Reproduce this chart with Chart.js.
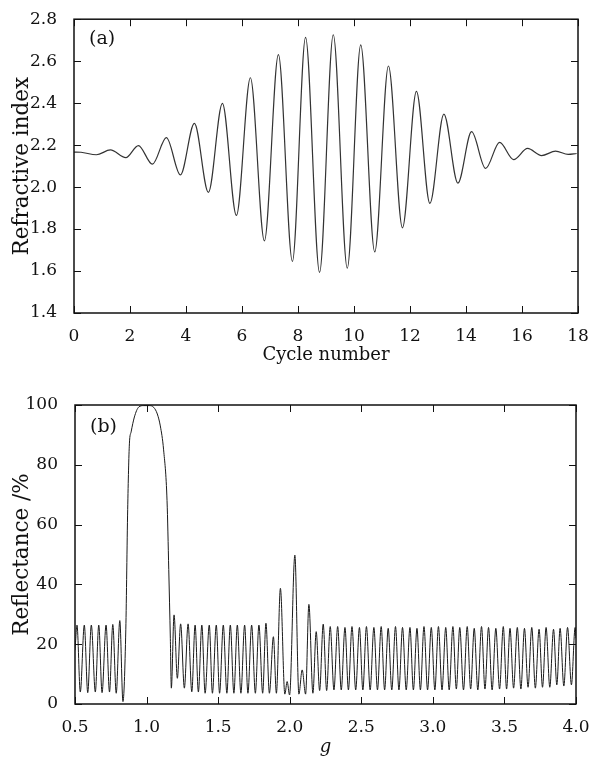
<!DOCTYPE html>
<html>
<head>
<meta charset="utf-8">
<script src="https://cdn.jsdelivr.net/npm/chart.js@4.4.1/dist/chart.umd.min.js"></script>
<style>
  html, body { margin: 0; padding: 0; background: #fff; }
  #panelA, #panelB { position: absolute; left: 0; width: 598px; }
  #panelA { top: 0; height: 380px; }
  #panelB { top: 380px; height: 381px; }
</style>
</head>
<body>
<div id="panelA"><canvas id="graficoA" width="598" height="380"></canvas></div>
<div id="panelB"><canvas id="graficoB" width="598" height="381"></canvas></div>
<script>
// (a) refractive index vs cycle number, extrema
const ciclos = [0, 0.25, 0.8, 1.3, 1.85, 2.3, 2.8, 3.3, 3.8, 4.3, 4.8, 5.3, 5.8, 6.3, 6.8, 7.3, 7.8,
  8.27, 8.77, 9.26, 9.76, 10.24, 10.74, 11.23, 11.73, 12.23, 12.71, 13.21, 13.71, 14.2, 14.7,
  15.2, 15.7, 16.2, 16.7, 17.2, 17.65, 17.95];
const indice = [2.167, 2.166, 2.154, 2.177, 2.140, 2.198, 2.109, 2.236, 2.058, 2.304, 1.975, 2.399,
  1.865, 2.521, 1.744, 2.631, 1.646, 2.713, 1.594, 2.726, 1.614, 2.678, 1.691, 2.577, 1.806,
  2.456, 1.922, 2.348, 2.019, 2.264, 2.089, 2.213, 2.131, 2.184, 2.150, 2.171, 2.156, 2.160];

// (b) reflectance vs g
const gValores = [0.500, 0.514, 0.537, 0.565, 0.589, 0.614, 0.642, 0.666, 0.689, 0.717, 0.741, 0.764,
  0.788, 0.813, 0.835, 0.855, 0.868, 0.880, 0.892, 0.915, 0.945, 0.980, 1.020, 1.050, 1.075,
  1.096, 1.119, 1.143, 1.155, 1.166, 1.173, 1.192, 1.215, 1.238, 1.264, 1.290, 1.316, 1.339,
  1.362, 1.386, 1.409, 1.438, 1.460, 1.487, 1.510, 1.536, 1.561, 1.585, 1.610, 1.634, 1.659,
  1.685, 1.708, 1.734, 1.760, 1.785, 1.811, 1.834, 1.858, 1.886, 1.907, 1.935, 1.966, 1.982,
  1.999, 2.036, 2.064, 2.087, 2.111, 2.134, 2.162, 2.185, 2.209, 2.234, 2.258, 2.283, 2.309,
  2.335, 2.360, 2.386, 2.410, 2.435, 2.461, 2.487, 2.511, 2.536, 2.562, 2.588, 2.613, 2.639,
  2.663, 2.688, 2.713, 2.739, 2.763, 2.788, 2.814, 2.840, 2.864, 2.889, 2.913, 2.938, 2.963,
  2.989, 3.014, 3.039, 3.064, 3.090, 3.114, 3.140, 3.164, 3.188, 3.214, 3.240, 3.264, 3.289,
  3.314, 3.340, 3.364, 3.389, 3.414, 3.440, 3.466, 3.492, 3.515, 3.539, 3.564, 3.590, 3.615,
  3.640, 3.665, 3.691, 3.716, 3.742, 3.766, 3.791, 3.817, 3.843, 3.866, 3.889, 3.915, 3.941,
  3.968, 3.994, 4.000];
const reflectancia = [18, 26.4, 4.0, 26.4, 3.8, 26.4, 4.0, 26.4, 3.8, 26.4, 4.0, 26.6,
  3.6, 27.9, 0.8, 25, 65, 87, 91, 96, 99.3, 99.8, 99.8, 99.2, 97,
  93, 85, 68, 45, 22, 5.3, 29.8, 8.6, 26.8, 5.3, 26.8, 4.1, 26.4,
  4.0, 26.4, 3.6, 26.4, 3.6, 26.4, 3.6, 26.4, 3.6, 26.4, 3.6, 26.4, 3.6,
  26.4, 3.6, 26.4, 3.6, 26.4, 3.6, 27.0, 3.6, 22.5, 3.6, 38.7, 3.3, 7.5,
  3.0, 49.8, 3.3, 11.4, 3.3, 33.3, 3.6, 24.2, 4.5, 26.7, 4.5, 25.9, 4.7,
  25.9, 4.7, 25.6, 4.7, 25.9, 4.7, 25.6, 4.7, 25.9, 4.7, 25.6, 4.7, 25.9,
  4.7, 25.3, 4.7, 25.9, 4.7, 25.6, 4.7, 25.6, 4.7, 25.3, 4.7, 25.9, 4.7,
  25.6, 4.7, 25.9, 4.7, 25.6, 4.7, 25.9, 5.0, 25.6, 4.7, 25.9, 5.0, 25.3,
  4.7, 25.9, 5.0, 25.6, 4.7, 25.3, 5.0, 25.9, 5.0, 25.3, 5.3, 25.6, 5.0,
  25.3, 5.6, 25.6, 5.3, 25.0, 5.6, 25.6, 5.6, 25.0, 6.4, 25.3, 6.0, 25.6,
  6.4, 25.6, 22];

// tick labels
const ticksCiclo = [0, 2, 4, 6, 8, 10, 12, 14, 16, 18];
const ticksIndice = ['1.4', '1.6', '1.8', '2.0', '2.2', '2.4', '2.6', '2.8'];
const ticksG = ['0.5', '1.0', '1.5', '2.0', '2.5', '3.0', '3.5', '4.0'];
const ticksR = [0, 20, 40, 60, 80, 100];

const SERIF = '"DejaVu Serif", "Liberation Serif", serif';
const NEGRO = '#111';

// frame, inward ticks on four sides, panel letter
const marco = {
  id: 'marco',
  afterDatasetsDraw(chart, args, opts) {
    const { ctx, chartArea: a, scales: { x, y } } = chart;
    ctx.save();
    ctx.strokeStyle = NEGRO;
    ctx.lineWidth = 1;
    ctx.beginPath();
    x.ticks.forEach(t => {
      const px = Math.round(x.getPixelForValue(t.value)) + 0.5;
      ctx.moveTo(px, a.bottom); ctx.lineTo(px, a.bottom - 7);
      ctx.moveTo(px, a.top); ctx.lineTo(px, a.top + 7);
    });
    y.ticks.forEach(t => {
      const py = Math.round(y.getPixelForValue(t.value)) + 0.5;
      ctx.moveTo(a.left, py); ctx.lineTo(a.left + 7, py);
      ctx.moveTo(a.right, py); ctx.lineTo(a.right - 7, py);
    });
    ctx.stroke();
    ctx.lineWidth = 1.5;
    ctx.strokeRect(a.left, a.top, a.right - a.left, a.bottom - a.top);
    ctx.fillStyle = NEGRO;
    ctx.font = '19px ' + SERIF;
    ctx.textBaseline = 'middle';
    ctx.fillText(opts.etiqueta, a.left + 15, a.top + opts.dy);
    ctx.restore();
  }
};

function ejeX(min, max, etiquetas, titulo, italica, alto, padTitulo) {
  return {
    type: 'linear', min, max,
    afterBuildTicks: s => { s.ticks = etiquetas.map(v => ({ value: Number(v) })); },
    ticks: {
      autoSkip: false, maxRotation: 0, padding: 5, color: NEGRO,
      font: { family: SERIF, size: 17 },
      callback: (v, i) => String(etiquetas[i])
    },
    grid: { display: false },
    border: { display: false },
    title: {
      display: true, text: titulo, color: NEGRO,
      font: { family: SERIF, size: 18, style: italica ? 'italic' : 'normal' },
      padding: { top: 0, bottom: padTitulo }
    },
    afterFit: s => { s.height = alto; }
  };
}

function ejeY(min, max, etiquetas, titulo, ancho) {
  return {
    type: 'linear', min, max,
    afterBuildTicks: s => { s.ticks = etiquetas.map(v => ({ value: Number(v) })); },
    ticks: {
      autoSkip: false, padding: 9, color: NEGRO,
      font: { family: SERIF, size: 17 },
      callback: (v, i) => String(etiquetas[i])
    },
    grid: { display: false },
    border: { display: false },
    title: {
      display: true, text: titulo, color: NEGRO,
      font: { family: SERIF, size: 21.5 },
      padding: { top: 10, bottom: 0 }
    },
    afterFit: s => { s.width = ancho; }
  };
}

new Chart(document.getElementById('graficoA').getContext('2d'), {
  type: 'line',
  data: {
    datasets: [{
      data: ciclos.map((c, i) => ({ x: c, y: indice[i] })),
      borderColor: '#333',
      borderWidth: 1.2,
      pointRadius: 0,
      fill: false,
      cubicInterpolationMode: 'monotone'
    }]
  },
  options: {
    responsive: false,
    animation: false,
    layout: { padding: { top: 12, right: 20, left: 0, bottom: 0 } },
    plugins: { legend: { display: false }, tooltip: { enabled: false }, marco: { etiqueta: '(a)', dy: 20 } },
    scales: {
      x: ejeX(0, 18, ticksCiclo, 'Cycle number', false, 67, 14),
      y: ejeY(1.4, 2.8, ticksIndice, 'Refractive index', 74)
    }
  },
  plugins: [marco]
});

new Chart(document.getElementById('graficoB').getContext('2d'), {
  type: 'line',
  data: {
    datasets: [{
      data: gValores.map((g, i) => ({ x: g, y: reflectancia[i] })),
      borderColor: '#1a1a1a',
      borderWidth: 1,
      pointRadius: 0,
      fill: false,
      cubicInterpolationMode: 'monotone'
    }]
  },
  options: {
    responsive: false,
    animation: false,
    layout: { padding: { top: 25, right: 22, left: 0, bottom: 0 } },
    plugins: { legend: { display: false }, tooltip: { enabled: false }, marco: { etiqueta: '(b)', dy: 22 } },
    scales: {
      x: ejeX(0.5, 4.0, ticksG, 'g', true, 57, 3),
      y: ejeY(0, 100, ticksR, 'Reflectance /%', 75)
    }
  },
  plugins: [marco]
});
</script>
</body>
</html>
